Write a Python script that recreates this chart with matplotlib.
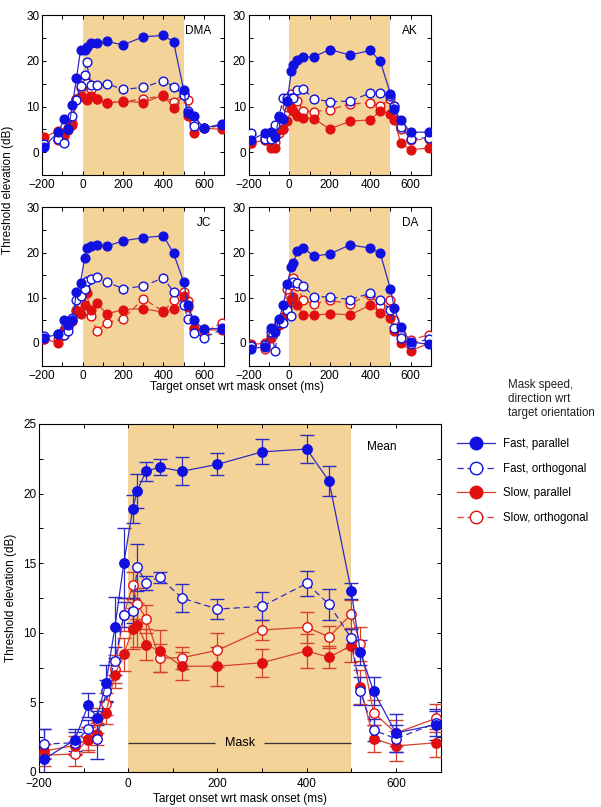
import numpy as np
import matplotlib.pyplot as plt
from matplotlib.lines import Line2D
from matplotlib.ticker import MultipleLocator

plt.rcParams['font.family'] = ['Liberation Sans', 'DejaVu Sans']
plt.rcParams['font.size'] = 8

# --- data -------------------------------------------------------------------
soa = [-190, -120, -90, -70, -50, -30, -10, 10, 20, 40, 70, 120, 200,
       300, 400, 450, 500, 520, 550, 600, 690]

# individual observers: fast parallel, fast orthogonal, slow parallel, slow orthogonal
dma_fp = [1.2, 4.5, 7.2, 5.0, 10.4, 16.2, 22.3, 22.3, 23.0, 23.9, 23.9, 24.3, 23.5,
          25.3, 25.6, 24.2, 13.6, 8.7, 8.0, 5.3, 6.2]
dma_fo = [1.8, 3.0, 2.1, 5.0, 8.0, 11.5, 14.5, 16.9, 19.7, 14.7, 14.8, 15.0, 13.8,
          14.2, 15.7, 14.4, 12.5, 9.0, 5.7, 5.4, 6.0]
dma_sp = [3.3, 4.7, 3.6, 4.8, 6.0, 11.7, 12.4, 12.0, 11.4, 12.3, 11.6, 10.8, 11.2,
          10.9, 12.5, 9.8, 12.5, 7.9, 4.3, 5.3, 5.0]
dma_so = [1.6, 2.7, 3.8, 5.3, 6.5, 11.6, 14.0, 16.0, 15.2, 13.8, 11.7, 10.8, 11.1,
          11.7, 12.4, 11.0, 12.9, 11.4, 6.5, 5.3, 5.8]

ak_fp = [2.6, 4.3, 4.4, 3.3, 7.8, 7.3, 11.2, 17.8, 19.2, 20.3, 20.9, 20.9, 22.5,
         21.3, 22.3, 19.9, 12.8, 9.5, 7.0, 4.4, 4.4]
ak_fo = [4.2, 3.0, 3.0, 5.9, 8.0, 11.8, 11.9, 11.9, 12.0, 13.6, 13.9, 11.7, 11.1,
         11.2, 13.0, 13.0, 12.3, 10.1, 5.6, 3.0, 3.2]
ak_sp = [2.0, 2.7, 1.0, 1.0, 4.8, 5.2, 6.8, 9.6, 9.0, 8.0, 7.5, 7.4, 5.1,
         6.8, 7.1, 9.1, 8.4, 7.1, 2.0, 0.6, 0.9]
ak_so = [2.0, 2.8, 2.2, 2.3, 4.3, 5.0, 10.0, 12.7, 11.8, 11.3, 9.0, 8.9, 9.3,
         10.6, 10.8, 10.2, 11.6, 10.2, 5.0, 2.6, 3.0]

jc_fp = [1.2, 1.9, 5.0, 4.0, 5.0, 11.3, 13.3, 18.8, 21.0, 21.5, 21.7, 21.4, 22.6,
         23.3, 23.7, 19.8, 13.5, 8.4, 5.0, 3.0, 3.3]
jc_fo = [1.5, 2.0, 1.8, 2.6, 5.5, 9.5, 10.5, 12.0, 13.8, 14.2, 14.7, 13.5, 12.0,
         12.6, 14.4, 11.3, 8.5, 5.2, 2.3, 1.2, 3.0]
jc_sp = [0.9, 0.0, 2.9, 3.6, 4.8, 7.0, 6.5, 8.5, 11.0, 7.2, 8.8, 6.4, 7.4,
         7.6, 6.8, 7.5, 10.5, 8.0, 3.4, 3.0, 2.8]
jc_so = [0.9, 0.9, 1.8, 4.2, 4.9, 7.2, 8.9, 11.9, 7.3, 6.0, 2.7, 4.5, 5.3,
         9.8, 7.0, 9.5, 11.3, 9.2, 3.1, 2.3, 4.5]

da_fp = [-1.3, -0.8, 3.3, 2.5, 5.3, 8.3, 13.0, 16.9, 17.7, 20.3, 21.1, 19.2, 19.7,
         21.7, 21.0, 19.8, 11.9, 7.7, 3.5, 0.2, -0.3]
da_fo = [-0.6, -0.5, 2.5, -1.7, 4.6, 4.5, 7.2, 5.9, 13.6, 13.2, 12.7, 10.2, 10.2,
         9.6, 11.0, 9.5, 7.3, 3.3, 1.0, -0.2, 0.9]
da_sp = [-0.3, -0.1, 1.2, 3.0, 4.1, 5.7, 8.2, 9.8, 10.1, 8.4, 6.2, 6.1, 6.5,
         6.2, 8.4, 6.6, 5.6, 2.6, 0.0, -1.7, -0.1]
da_so = [-0.4, -1.3, 1.5, 3.0, 4.0, 5.8, 12.0, 12.9, 14.4, 12.5, 9.4, 8.7, 9.4,
         8.7, 10.7, 8.2, 9.5, 5.0, 2.0, 0.7, 1.8]

# mean across observers, with error bars
mean_fp = [0.9, 2.3, 4.8, 3.9, 6.4, 10.4, 15.0, 18.9, 20.2, 21.6, 21.9, 21.6, 22.1,
           23.0, 23.2, 20.9, 13.0, 8.6, 5.8, 2.8, 3.4]
err_fp = [2.2, 0.8, 0.85, 0.5, 1.3, 2.2, 2.5, 1.0, 1.2, 0.7, 0.6, 1.0, 0.8,
          0.9, 1.0, 1.1, 0.6, 0.9, 1.0, 1.4, 1.1]
mean_fo = [2.0, 2.1, 3.1, 2.4, 5.8, 8.0, 11.3, 11.6, 14.7, 13.6, 14.0, 12.5, 11.7,
           11.9, 13.55, 12.05, 9.6, 5.8, 3.0, 2.4, 3.5]
err_fo = [1.1, 0.8, 0.6, 1.5, 0.8, 1.0, 0.9, 0.9, 1.7, 0.5, 0.4, 1.0, 0.7,
          1.0, 0.9, 1.1, 0.7, 1.0, 0.8, 1.0, 0.9]
mean_sp = [1.5, 1.9, 2.3, 2.75, 4.25, 7.0, 8.45, 10.3, 10.55, 9.15, 8.7, 7.6, 7.6,
           7.85, 8.7, 8.24, 9.07, 6.1, 2.4, 1.87, 2.1]
err_sp = [0.5, 0.7, 0.9, 0.8, 0.8, 1.0, 1.2, 1.5, 1.6, 1.1, 1.5, 1.0, 1.4,
          1.0, 1.2, 0.8, 1.2, 1.2, 1.0, 1.1, 1.0]
mean_so = [1.2, 1.3, 2.4, 3.7, 4.9, 7.4, 11.3, 13.4, 12.1, 11.0, 8.2, 8.2, 8.75,
           10.2, 10.4, 9.7, 11.35, 9.2, 4.26, 2.8, 3.85]
err_so = [0.8, 0.9, 0.8, 0.9, 0.8, 1.0, 1.2, 1.0, 1.1, 1.0, 1.0, 0.8, 1.2,
          0.7, 1.1, 0.8, 1.0, 1.2, 0.9, 0.9, 1.0]

observers = [("DMA", dma_fp, dma_fo, dma_sp, dma_so),
             ("AK", ak_fp, ak_fo, ak_sp, ak_so),
             ("JC", jc_fp, jc_fo, jc_sp, jc_so),
             ("DA", da_fp, da_fo, da_sp, da_so)]

MASK_ON, MASK_OFF = 0, 500
SHADE = '#F4D398'
BLUE = '#1010E0'
RED = '#E01010'
LBLUE = '#2c2cc4'
LRED = '#D8402c'
DASH = (0, (5, 3))

# (line colour, marker face, marker edge, linestyle)
styles = {
    'fp': (LBLUE, BLUE, BLUE, '-'),
    'fo': (LBLUE, 'white', BLUE, DASH),
    'sp': (LRED, RED, RED, '-'),
    'so': (LRED, 'white', RED, DASH),
}
labels = {'fp': 'Fast, parallel', 'fo': 'Fast, orthogonal',
          'sp': 'Slow, parallel', 'so': 'Slow, orthogonal'}


def style_axes(ax, ymaj, ymin, xpad=3):
    ax.set_xlim(-200, 700)
    ax.xaxis.set_major_locator(MultipleLocator(200))
    ax.xaxis.set_minor_locator(MultipleLocator(100))
    ax.yaxis.set_major_locator(MultipleLocator(ymaj))
    ax.yaxis.set_minor_locator(MultipleLocator(ymin))
    ax.tick_params(which='both', direction='in', top=True, right=True,
                   length=3, width=0.7, labelsize=8.5, pad=2)
    ax.tick_params(axis='x', pad=xpad)
    for s in ax.spines.values():
        s.set_linewidth(0.8)
    ax.axvspan(MASK_ON, MASK_OFF, color=SHADE, zorder=0, lw=0)


fig = plt.figure(figsize=(6.01, 8.07), dpi=100)

pos = [(0.070, 0.783, 0.303, 0.198), (0.414, 0.783, 0.303, 0.198),
       (0.070, 0.547, 0.303, 0.196), (0.414, 0.547, 0.303, 0.196)]

for (name, fp, fo, sp, so), p in zip(observers, pos):
    ax = fig.add_axes(p)
    style_axes(ax, 10, 5)
    ax.set_ylim(-5, 30)
    for key, vals in (('so', so), ('sp', sp), ('fo', fo), ('fp', fp)):
        lc, mfc, mec, ls = styles[key]
        ax.plot(soa, vals, color=lc, ls=ls, lw=0.9, marker='o', ms=6.3,
                mfc=mfc, mec=mec, mew=1.0, zorder=3)
    ax.text(0.93, 0.9, name, transform=ax.transAxes, ha='right', va='center',
            fontsize=8.5)

fig.text(0.013, 0.765, 'Threshold elevation (dB)', rotation=90,
         ha='center', va='center', fontsize=8.5)
fig.text(0.394, 0.520, 'Target onset wrt mask onset (ms)', ha='center',
         va='center', fontsize=8.5)

# --- mean panel --------------------------------------------------------------
axm = fig.add_axes((0.065, 0.0434, 0.668, 0.4312))
style_axes(axm, 5, 2.5, xpad=4.5)
axm.set_ylim(0, 25)

means = {'fp': (mean_fp, err_fp), 'fo': (mean_fo, err_fo),
         'sp': (mean_sp, err_sp), 'so': (mean_so, err_so)}
for key in ('so', 'sp', 'fo', 'fp'):
    vals, err = means[key]
    lc, mfc, mec, ls = styles[key]
    if key == 'so':
        ls = '-'   # mean slow-orthogonal curve is drawn solid
    eb = axm.errorbar(soa, vals, yerr=err, color=lc, ls=ls, lw=0.9,
                      marker='o', ms=6.8, mfc=mfc, mec=mec, mew=1.0,
                      ecolor=lc, elinewidth=0.9, capsize=5, capthick=0.9,
                      zorder=3)
    eb[-1][0].set_linestyle('-')

axm.hlines(2.1, MASK_ON, 195, color='#333333', lw=0.9, zorder=2)
axm.hlines(2.1, 305, MASK_OFF, color='#333333', lw=0.9, zorder=2)
axm.text(250, 2.1, 'Mask', ha='center', va='center', fontsize=9)
axm.text(0.89, 0.935, 'Mean', transform=axm.transAxes, ha='right',
         va='center', fontsize=8.5)
axm.set_xlabel('Target onset wrt mask onset (ms)', fontsize=8.5, labelpad=2)
axm.set_ylabel('Threshold elevation (dB)', fontsize=8.5, labelpad=4)

# --- legend ------------------------------------------------------------------
fig.text(0.845, 0.530, 'Mask speed,\ndirection wrt\ntarget orientation',
         ha='left', va='top', fontsize=8.3, linespacing=1.2, color='#222222')
handles = []
for key in ('fp', 'fo', 'sp', 'so'):
    lc, mfc, mec, ls = styles[key]
    handles.append(Line2D([], [], color=lc, ls=ls, lw=0.9, marker='o', ms=9,
                          mfc=mfc, mec=mec, mew=1.0, label=labels[key]))
fig.legend(handles=handles, loc='upper left', bbox_to_anchor=(0.752, 0.463),
           frameon=False, fontsize=8.3, handlelength=3.3, handletextpad=0.7,
           labelspacing=1.1, borderaxespad=0)

fig.savefig('out.png', dpi=100, facecolor='white')
